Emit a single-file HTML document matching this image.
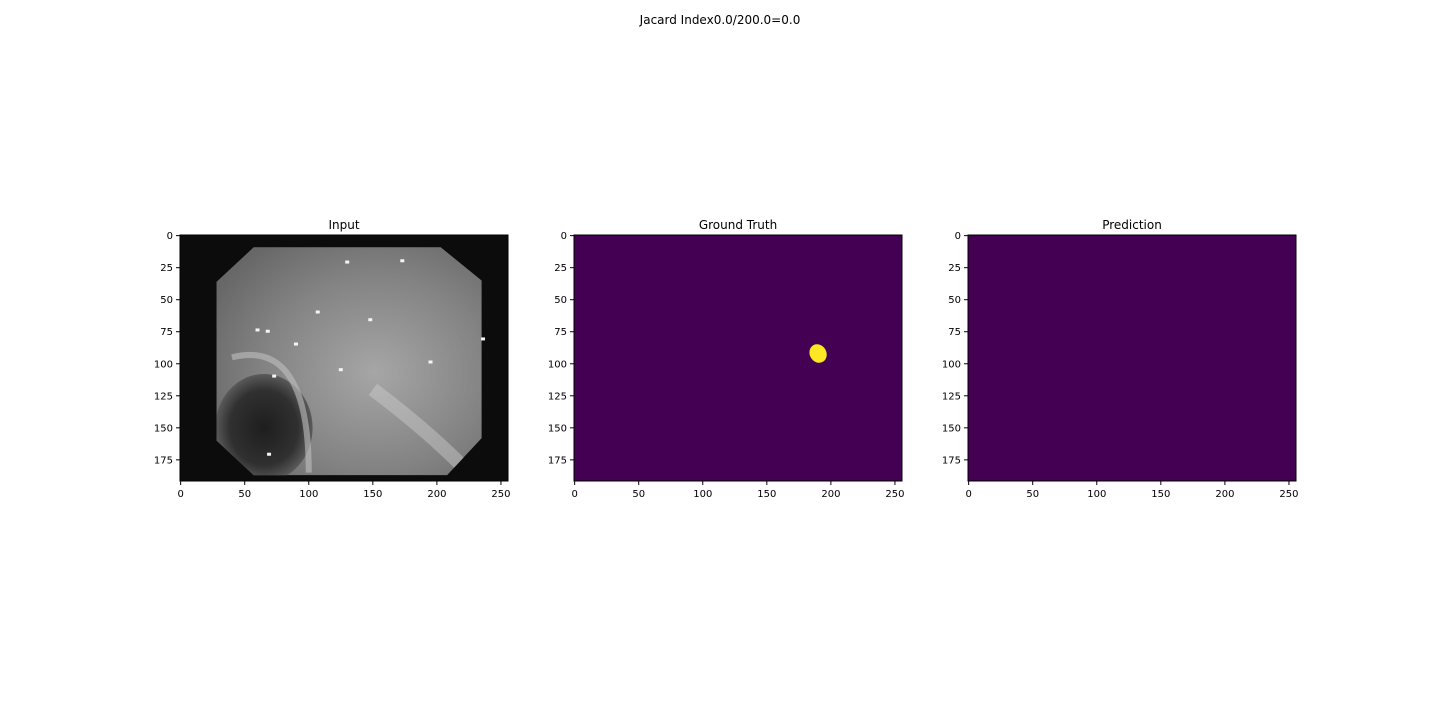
<!DOCTYPE html>
<html><head><meta charset="utf-8"><style>
body{margin:0;background:#fff;font-family:"DejaVu Sans","Liberation Sans",sans-serif}
svg{display:block}
</style></head><body>
<svg id="fig" width="1440" height="720">
<defs>
<radialGradient id="tissue" cx="0.6" cy="0.55" r="0.7">
<stop offset="0" stop-color="#a6a6a6"/><stop offset="0.6" stop-color="#838383"/><stop offset="1" stop-color="#676767"/>
</radialGradient>
<radialGradient id="hole" cx="0.5" cy="0.5" r="0.5">
<stop offset="0" stop-color="#1e1e1e"/><stop offset="0.7" stop-color="#303030"/><stop offset="1" stop-color="#5a5a5a"/>
</radialGradient>
<clipPath id="octclip"><polygon id="octpoly" points=""/></clipPath>
</defs>
<text x="720" y="24" text-anchor="middle" font-size="12">Jacard Index0.0/200.0=0.0</text>
</svg>
<script>
const panels=["Input","Ground Truth","Prediction"];
const xTicks=[0,50,100,150,200,250];
const yTicks=[0,25,50,75,100,125,150,175];
const imgW=256, imgH=192;
const lefts=[180,574,968];
const octagon=[[57,9],[203,9],[235,35],[235,158],[208,187],[57,187],[28,160],[28,36]];
const gtBlob={cx:190,cy:92,r:6.5};
const specks=[[107,60],[68,75],[60,74],[148,66],[236,81],[195,99],[90,85],[125,105],[73,110],[69,171],[173,20],[130,21]];
const svg=document.getElementById('fig');
const NS='http://www.w3.org/2000/svg';
const top0=235, scale=328/256;
function mk(t,a,p){const e=document.createElementNS(NS,t);for(const k in a)e.setAttribute(k,a[k]);(p||svg).appendChild(e);return e;}
panels.forEach((name,i)=>{
  const L=lefts[i];
  const sx=v=>L+(v+0.5)*scale, sy=v=>top0+(v+0.5)*scale;
  const g=mk('g',{});
  
  
  const W=imgW*scale,H=imgH*scale;
  const bg=mk('rect',{x:L,y:top0,width:W,height:H,fill:i==0?'#0c0c0c':'#440154'},g);
  
  
  if(i==0){
    const pts=octagon.map(p=>sx(p[0])+','+sy(p[1])).join(' ');
    document.getElementById('octpoly').setAttribute('points',pts);
    const cg=mk('g',{'clip-path':'url(#octclip)'},g);
    const poly=mk('polygon',{points:pts,fill:'url(#tissue)'},cg);
    
    
    const h=mk('ellipse',{cx:sx(65),cy:sy(150),rx:38*scale,ry:42*scale,fill:'url(#hole)'},cg);
    
    
    mk('path',{d:`M${sx(40)} ${sy(95)} Q${sx(100)} ${sy(80)} ${sx(100)} ${sy(185)}`,stroke:'#c0c0c0','stroke-width':6,fill:'none',opacity:0.6},cg);
    mk('path',{d:`M${sx(150)} ${sy(120)} Q${sx(190)} ${sy(150)} ${sx(220)} ${sy(180)}`,stroke:'#cfcfcf','stroke-width':14,fill:'none',opacity:0.45},cg);
    specks.forEach(s=>{const r=mk('rect',{x:sx(s[0])-2,y:sy(s[1])-2,width:4,height:3,fill:'#f4f4f4'},g);
      });
  }
  if(i==1){
    const b=mk('ellipse',{cx:sx(gtBlob.cx),cy:sy(gtBlob.cy),rx:gtBlob.r*scale,ry:gtBlob.r*1.15*scale,fill:'#fde725',transform:`rotate(-30 ${sx(gtBlob.cx)} ${sy(gtBlob.cy)})`},g);
    
    
  }
  const fr=mk('rect',{x:L,y:top0,width:W,height:H,fill:'none',stroke:'#000','stroke-width':1},g);
  
  
  const t=mk('text',{x:L+W/2,y:top0-6,'text-anchor':'middle','font-size':12},g);
  t.textContent=name;
  
  
  xTicks.forEach(v=>{const x=sx(v);
    mk('line',{x1:x,x2:x,y1:top0+H,y2:top0+H+4,stroke:'#000'},g);
    const tx=mk('text',{x:x,y:top0+H+16,'text-anchor':'middle','font-size':10},g);
    tx.textContent=v;
    
    });
  yTicks.forEach(v=>{const y=sy(v);
    mk('line',{x1:L-4,x2:L,y1:y,y2:y,stroke:'#000'},g);
    const ty=mk('text',{x:L-7,y:y+3.5,'text-anchor':'end','font-size':10},g);
    ty.textContent=v;
    
    });
});
</script>
</body></html>
